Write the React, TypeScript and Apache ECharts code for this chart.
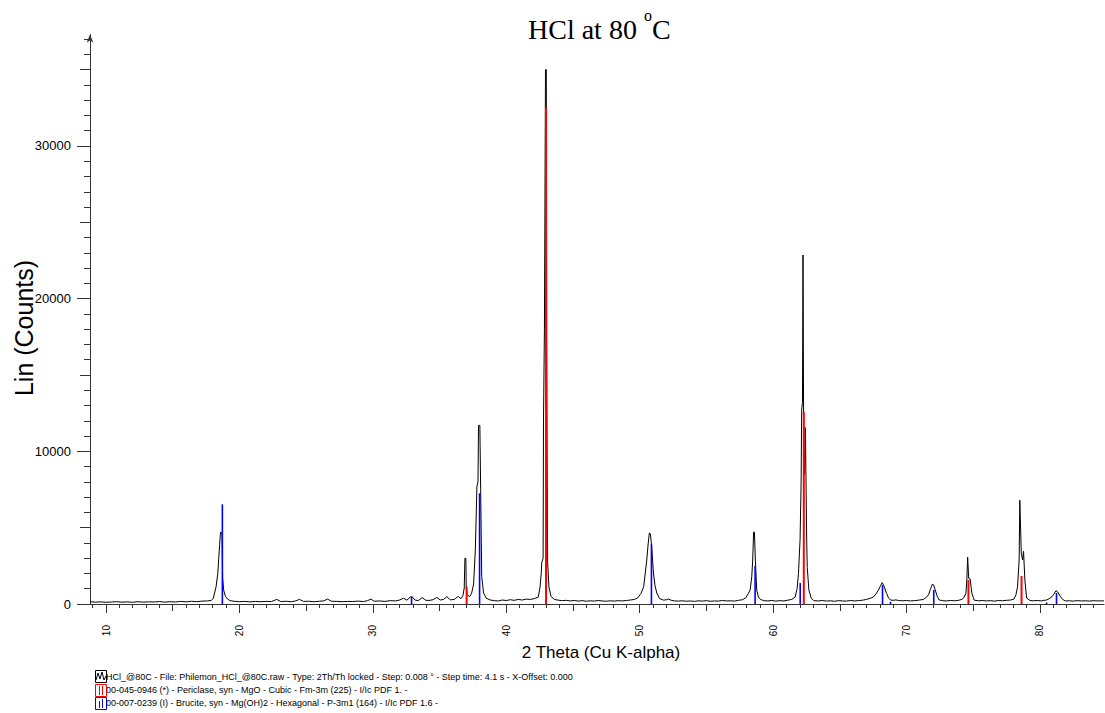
import React, { useEffect, useRef } from "react";
import * as echarts from "echarts";

// ---- Diffraction scan (2θ, counts) ----
const scanLow: [number, number][] = [
  [8.8, 150], [9.2, 120], [9.6, 140], [10.0, 110], [10.4, 130], [10.8, 150], [11.2, 120], [11.6, 140],
  [12.0, 110], [12.4, 150], [12.8, 120], [13.2, 140], [13.6, 130], [14.0, 160], [14.4, 120], [14.8, 150],
  [15.2, 130], [15.6, 170], [16.0, 140], [16.4, 180], [16.8, 150], [17.2, 190], [17.6, 200], [17.9, 240],
  [18.04, 370], [18.25, 1130], [18.38, 2000], [18.45, 3000], [18.52, 3900], [18.58, 4700], [18.7, 4650],
  [18.74, 1700], [18.82, 900], [18.95, 500], [19.1, 330], [19.3, 220],
  [19.6, 180], [20.0, 150], [20.4, 170], [20.8, 140], [21.2, 170], [21.6, 150], [22.0, 170], [22.4, 160],
  [22.8, 300], [23.1, 160], [23.5, 180], [23.9, 150], [24.2, 200], [24.5, 300], [24.8, 170], [25.2, 180],
  [25.6, 150], [26.0, 180], [26.3, 200], [26.6, 320], [26.9, 180], [27.3, 170], [27.7, 150], [28.1, 170],
  [28.5, 160], [28.9, 190], [29.3, 160], [29.6, 220], [29.85, 320], [30.1, 180], [30.5, 200], [30.9, 170],
  [31.3, 220], [31.7, 200], [32.0, 260], [32.3, 380], [32.55, 250], [32.8, 450], [32.95, 480], [33.15, 260],
  [33.4, 220], [33.7, 420], [33.95, 250], [34.2, 230], [34.5, 280], [34.8, 430], [35.05, 260], [35.3, 300],
  [35.55, 480], [35.8, 270], [36.1, 300], [36.4, 500], [36.6, 350],
];

const scanMid: [number, number][] = [
  [36.75, 550], [36.85, 1050], [36.9, 3000], [36.97, 3000], [37.0, 1000], [37.08, 600], [37.25, 480],
  [37.4, 700], [37.55, 1300], [37.68, 3500], [37.8, 7700], [37.88, 8000], [37.92, 11700], [38.02, 11700],
  [38.08, 7500], [38.16, 1800], [38.3, 720], [38.5, 380], [38.8, 260],
  [39.1, 220], [39.4, 200], [39.7, 260], [40.0, 230], [40.3, 280], [40.6, 240], [40.9, 300], [41.2, 260],
  [41.5, 320], [41.8, 300], [42.1, 350], [42.4, 450],
  [42.53, 1100], [42.62, 2000], [42.66, 2700], [42.76, 3000], [42.79, 12000], [42.86, 18000], [42.94, 35000],
  [43.0, 35000], [43.03, 18000], [43.07, 8000], [43.1, 2700], [43.2, 1100], [43.35, 500], [43.6, 300],
  [43.9, 250], [44.2, 220], [44.5, 240], [44.8, 200], [45.1, 230], [45.4, 190], [45.7, 220], [46.0, 180],
  [46.3, 210], [46.6, 190], [46.9, 230], [47.2, 200], [47.5, 180], [47.8, 210], [48.1, 190], [48.4, 220],
  [48.7, 200], [49.0, 230], [49.3, 260], [49.6, 300],
  [49.85, 400], [50.1, 700], [50.3, 1130], [50.53, 2880], [50.62, 3800], [50.72, 4650], [50.8, 4600],
  [50.9, 3750], [51.03, 2030], [51.15, 1200], [51.28, 720], [51.5, 350], [51.8, 250], [52.0, 280],
  [52.15, 320], [52.35, 250], [52.6, 200],
  [52.9, 190], [53.2, 210], [53.5, 180], [53.8, 200], [54.1, 170], [54.4, 210], [54.7, 190], [55.0, 220],
  [55.3, 180], [55.6, 200], [55.9, 190], [56.2, 230], [56.5, 200], [56.8, 210], [57.1, 190], [57.4, 240],
  [57.7, 280], [57.95, 400],
  [58.15, 700], [58.28, 920], [58.4, 1800], [58.47, 2880], [58.54, 4716], [58.6, 4700], [58.67, 2880],
  [58.77, 920], [58.9, 450], [59.05, 300], [59.3, 220],
];

const scanHigh: [number, number][] = [
  [59.6, 200], [59.9, 230], [60.2, 190], [60.5, 220], [60.8, 200], [61.1, 250], [61.4, 300],
  [61.65, 450], [61.8, 1000], [61.9, 2000], [62.02, 4200], [62.1, 8000], [62.14, 12700], [62.2, 13200],
  [62.24, 22860], [62.27, 22860], [62.3, 8600], [62.36, 8500], [62.42, 11550], [62.47, 11550], [62.52, 4000],
  [62.56, 2400], [62.68, 920], [62.85, 400], [63.05, 220],
  [63.4, 200], [63.7, 230], [64.0, 190], [64.3, 210], [64.6, 180], [64.9, 220], [65.2, 200], [65.5, 190],
  [65.8, 230], [66.1, 200], [66.4, 220], [66.7, 250],
  [67.0, 300], [67.3, 380], [67.5, 450], [67.7, 650], [67.9, 920], [68.05, 1200], [68.18, 1400], [68.3, 1200],
  [68.5, 700], [68.65, 400], [68.8, 260], [69.0, 240], [69.2, 270], [69.4, 230],
  [69.7, 210], [70.0, 230], [70.3, 200], [70.6, 220], [70.9, 250],
  [71.27, 300], [71.5, 450], [71.65, 600], [71.8, 1000], [71.95, 1310], [72.05, 1200], [72.15, 920],
  [72.3, 500], [72.45, 260], [72.7, 220],
  [73.0, 200], [73.3, 230], [73.6, 210], [73.9, 240], [74.15, 300],
  [74.3, 420], [74.45, 700], [74.52, 1570], [74.58, 3060], [74.62, 3060], [74.66, 1680], [74.77, 1640],
  [74.84, 1100], [74.9, 700], [75.07, 250],
  [75.4, 210], [75.7, 230], [76.0, 200], [76.3, 220], [76.6, 190], [76.9, 230], [77.2, 210], [77.5, 240],
  [77.8, 260],
  [78.05, 320], [78.2, 600], [78.32, 1130], [78.44, 2880], [78.49, 6800], [78.53, 6800], [78.6, 3340],
  [78.7, 2880], [78.77, 3450], [78.81, 3450], [78.87, 1570], [79.0, 390], [79.26, 230],
  [79.5, 210], [79.8, 230], [80.1, 200], [80.3, 240], [80.5, 260], [80.7, 350], [80.9, 480], [81.05, 650],
  [81.2, 870], [81.32, 800], [81.5, 520], [81.7, 300], [81.9, 200], [82.2, 210], [82.5, 190], [82.8, 220],
  [83.1, 200], [83.4, 210], [83.7, 190], [84.0, 220], [84.3, 200], [84.6, 210], [84.8, 200],
];

// ---- Reference patterns (stick positions and heights) ----
const periclaseX = [37.03, 42.98, 62.3, 74.64, 78.62];
const periclaseY = [1130, 32500, 12600, 1570, 1830];
const bruciteX = [18.72, 32.9, 38.0, 50.88, 58.65, 62.03, 68.2, 68.8, 72.04, 80.5, 81.24];
const bruciteY = [6530, 480, 7250, 3930, 2490, 1370, 1240, 150, 920, 100, 720];

// ---- Axis ticks ----
const xMajorTicks = [10, 20, 30, 40, 50, 60, 70, 80];
const xMidTicks = [15, 25, 35, 45, 55, 65, 75];
const xMinorTicks = Array.from({ length: 76 }, (_, i) => 9 + i);
const yMajorTicks = [0, 10000, 20000, 30000];
const yMidTicks = [5000, 15000, 25000, 35000];
const yMinorTicks = Array.from({ length: 38 }, (_, i) => i * 1000);

const X_MIN = 8.8;
const X_MAX = 84.8;
const Y_MAX = 37300;

const titleText = "{a|HCl at 80 }{s|o}{a|C}";
const xName = "2 Theta (Cu K-alpha)";
const yName = "Lin (Counts)";
const legendLines = [
  "HCl_@80C - File: Philemon_HCl_@80C.raw - Type: 2Th/Th locked - Step: 0.008 ° - Step time: 4.1 s - X-Offset: 0.000",
  "00-045-0946 (*) - Periclase, syn - MgO - Cubic - Fm-3m (225) - I/Ic PDF 1. -",
  "00-007-0239 (I) - Brucite, syn - Mg(OH)2 - Hexagonal - P-3m1 (164) - I/Ic PDF 1.6 -",
];

const SANS = "Liberation Sans, Arial, sans-serif";
const SERIF = "Liberation Serif, Times New Roman, serif";
const AX = "#333";

function xAxisDef(ticks: number[], len: number, main: boolean) {
  return {
    type: "value",
    min: X_MIN,
    max: X_MAX,
    position: "bottom",
    axisLine: { show: main, onZero: false, lineStyle: { color: AX, width: 1 } },
    splitLine: { show: false },
    axisTick: { show: true, customValues: ticks, length: len, lineStyle: { color: AX, width: 1 } },
    axisLabel: main
      ? {
          show: true,
          customValues: ticks,
          rotate: 90,
          margin: 21,
          fontSize: 10,
          fontFamily: SANS,
          color: "#000",
          formatter: (v: number) => String(v),
        }
      : { show: false },
  };
}

function yAxisDef(ticks: number[], len: number, main: boolean) {
  return {
    type: "value",
    min: 0,
    max: Y_MAX,
    position: "left",
    axisLine: main
      ? { show: true, onZero: false, symbol: ["none", "arrow"], symbolSize: [5, 8], lineStyle: { color: AX, width: 1 } }
      : { show: false, onZero: false },
    splitLine: { show: false },
    axisTick: { show: true, customValues: ticks, length: len, lineStyle: { color: AX, width: 1 } },
    axisLabel: main
      ? {
          show: true,
          customValues: ticks,
          margin: 19,
          fontSize: 13,
          fontFamily: SANS,
          color: "#000",
          formatter: (v: number) => String(v),
        }
      : { show: false },
  };
}

function stickSeries(name: string, xs: number[], ys: number[], color: string, width: number) {
  return {
    name,
    type: "custom",
    xAxisIndex: 0,
    yAxisIndex: 0,
    z: 5,
    encode: { x: 0, y: 1 },
    data: xs.map((x, i) => [x, ys[i]]),
    renderItem: (params: any, api: any) => {
      const p0 = api.coord([api.value(0), 0]);
      const p1 = api.coord([api.value(0), api.value(1)]);
      return {
        type: "line",
        shape: { x1: p0[0], y1: p0[1], x2: p1[0], y2: p1[1] },
        style: { stroke: color, lineWidth: width },
      };
    },
  };
}

export default function App() {
  const ref = useRef<HTMLDivElement>(null);

  useEffect(() => {
    if (!ref.current) return;
    const chart = echarts.init(ref.current, null, { renderer: "svg" });
    const scan = [...scanLow, ...scanMid, ...scanHigh];

    const legendX = 106;
    const legendY = [677, 690, 703];

    const option: any = {
      animation: false,
      backgroundColor: "#fff",
      title: {
        text: titleText,
        left: 523,
        top: 2,
        textStyle: {
          fontWeight: "normal",
          rich: {
            a: { fontFamily: SERIF, fontSize: 28, fontWeight: "normal", color: "#000", lineHeight: 36, verticalAlign: "bottom" },
            s: { fontFamily: SERIF, fontSize: 16, fontWeight: "normal", color: "#000", lineHeight: 22, verticalAlign: "top" },
          },
        },
      },
      grid: { left: 90, right: 1, top: 34.5, bottom: 109, outerBoundsMode: "none" },
      xAxis: [
        xAxisDef(xMajorTicks, 9, true),
        xAxisDef(xMidTicks, 7, false),
        xAxisDef(xMinorTicks, 4, false),
      ],
      yAxis: [
        yAxisDef(yMajorTicks, 13, true),
        yAxisDef(yMidTicks, 10, false),
        yAxisDef(yMinorTicks, 6, false),
      ],
      series: [
        {
          name: "HCl_@80C",
          type: "line",
          xAxisIndex: 0,
          yAxisIndex: 0,
          data: scan,
          showSymbol: false,
          symbol: "none",
          lineStyle: { color: "#000", width: 1 },
          z: 3,
        },
        stickSeries("Periclase", periclaseX, periclaseY, "#ff0000", 2),
        stickSeries("Brucite", bruciteX, bruciteY, "#0000ff", 1.6),
      ],
      graphic: [
        {
          type: "text",
          x: 601,
          y: 652,
          style: { text: xName, fontSize: 17, fontFamily: SANS, fill: "#000", align: "center", verticalAlign: "middle" },
        },
        {
          type: "text",
          x: 24,
          y: 328,
          rotation: Math.PI / 2,
          style: { text: yName, fontSize: 25, fontFamily: SANS, fill: "#000", align: "center", verticalAlign: "middle" },
        },
        // legend icons
        { type: "rect", shape: { x: 95.5, y: 670.5, width: 11, height: 12 }, style: { fill: "none", stroke: "#000", lineWidth: 1 } },
        {
          type: "polyline",
          shape: { points: [[96, 680], [98, 673], [100, 679], [102, 672], [104, 680], [106, 676]] },
          style: { fill: "none", stroke: "#000", lineWidth: 1 },
        },
        { type: "rect", shape: { x: 95.5, y: 684.5, width: 11, height: 12 }, style: { fill: "none", stroke: "#ff0000", lineWidth: 1 } },
        { type: "line", shape: { x1: 99.5, y1: 686, x2: 99.5, y2: 695 }, style: { stroke: "#ff0000", lineWidth: 1 } },
        { type: "line", shape: { x1: 102.5, y1: 686, x2: 102.5, y2: 695 }, style: { stroke: "#ff0000", lineWidth: 1 } },
        { type: "rect", shape: { x: 95.5, y: 697.5, width: 11, height: 12 }, style: { fill: "none", stroke: "#0000ff", lineWidth: 1 } },
        { type: "line", shape: { x1: 99.5, y1: 701, x2: 99.5, y2: 708 }, style: { stroke: "#0000ff", lineWidth: 1 } },
        { type: "line", shape: { x1: 102.5, y1: 699, x2: 102.5, y2: 708 }, style: { stroke: "#0000ff", lineWidth: 1 } },
        ...legendLines.map((t, i) => ({
          type: "text",
          x: legendX,
          y: legendY[i],
          style: { text: t, fontSize: 9, fontFamily: SANS, fill: "#000", align: "left", verticalAlign: "middle" },
        })),
      ],
    };

    chart.setOption(option);
    return () => chart.dispose();
  }, []);

  return (
    <div
      ref={ref}
      style={{ position: "fixed", left: 0, top: 0, width: 1105, height: 713, background: "#fff" }}
    />
  );
}
